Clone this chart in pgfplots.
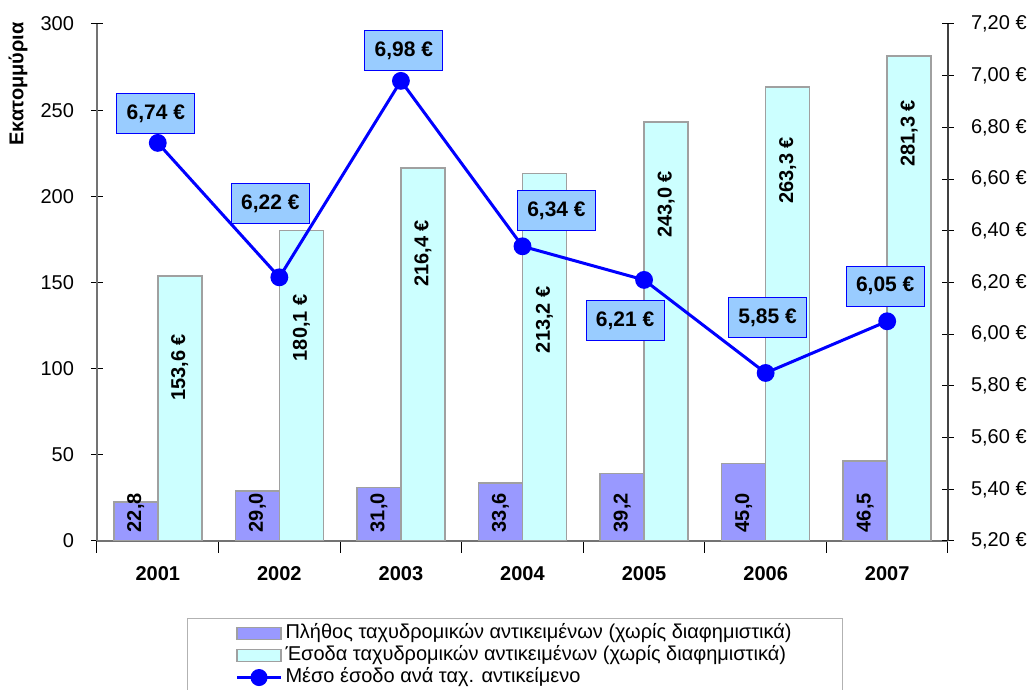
\documentclass[border=0pt]{standalone}
\usepackage{fontspec}
\setmainfont{Liberation Sans}
\usepackage{pgfplots}
\usepackage{pgfplotstable}
\pgfplotsset{compat=1.18}

\definecolor{countbar}{RGB}{153,153,255}
\definecolor{revbar}{RGB}{204,255,255}
\definecolor{lblbox}{RGB}{153,204,255}
\definecolor{barline}{RGB}{160,160,160}

% x = year index (0 = 2001), revoff/dx/dy = label offsets in pt
\pgfplotstableread{
x count rev   revoff avg  dx   dy
0 22.8  153.6 28.5   6.74 -1   14.5
1 29.0  180.1 31.5   6.22 -4.5 37
2 31.0  216.4 25.5   6.98 1.5  15
3 33.6  213.2 56     6.34 17   18
4 39.2  243.0 24     6.21 -9.5 -20.5
5 45.0  263.3 24.5   5.85 1    27.5
6 46.5  281.3 21.5   6.05 -1   17.5
}\data

\begin{document}
\begin{tikzpicture}
\pgfplotsset{
  every axis/.append style={
    scale only axis, width=425.5pt, height=258.5pt,
    xmin=-0.5, xmax=6.5,
    font=\fontsize{10}{12}\selectfont,
    tick label style={font=\fontsize{10}{12}\selectfont},
    /pgf/number format/assume math mode=true,
    /pgf/number format/use comma,
    tick align=center, major tick length=6pt,
    tick style={black, line width=0.5pt},
  },
}
\begin{axis}[
  axis x line*=bottom, axis y line*=left,
  axis line style={black!55, line width=0.6pt},
  ymin=0, ymax=300, ytick={0,50,100,150,200,250,300},
  yticklabel style={/pgf/number format/fixed, xshift=-5pt},
  xtick={-0.5,0.5,1.5,2.5,3.5,4.5,5.5,6.5}, xticklabels={},
  extra x ticks={0,1,2,3,4,5,6},
  extra x tick labels={2001,2002,2003,2004,2005,2006,2007},
  extra x tick style={major tick length=0pt,
    tick label style={font=\fontsize{10}{12}\selectfont\bfseries, yshift=-9pt}},
  ylabel={Εκατομμύρια},
  ylabel style={at={(axis description cs:-0.0928,0.884)}, anchor=center,
    font=\fontsize{10}{12}\selectfont\bfseries},
  ybar=0pt, bar width=22pt,
]
\addplot[fill=countbar, draw=barline, line width=0.8pt,
  point meta=explicit,
  visualization depends on={\thisrow{count} \as \cnt},
  nodes near coords={\pgfmathprintnumber[fixed,fixed zerofill,precision=1]{\pgfplotspointmeta}},
  nodes near coords style={yshift={4pt-0.86167pt*\cnt}, rotate=90, anchor=west,
    inner sep=0pt, font=\fontsize{10}{12}\selectfont\bfseries, text=black},
] table[x=x, y=count, meta=count] {\data};
\addplot[fill=revbar, draw=barline, line width=0.8pt,
  point meta=explicit,
  visualization depends on={\thisrow{revoff} \as \roff},
  nodes near coords={\pgfmathprintnumber[fixed,fixed zerofill,precision=1]{\pgfplotspointmeta}~€},
  nodes near coords style={yshift=-\roff pt, rotate=90, anchor=east,
    inner sep=0pt, font=\fontsize{10}{12}\selectfont\bfseries, text=black},
] table[x=x, y=rev, meta=rev] {\data};
\end{axis}

\begin{axis}[
  axis y line*=right, axis x line=none,
  axis line style={black!75, line width=0.6pt},
  ymin=5.2, ymax=7.2,
  ytick={5.2,5.4,5.6,5.8,6.0,6.2,6.4,6.6,6.8,7.0,7.2},
  yticklabel={\pgfmathprintnumber[fixed,fixed zerofill,precision=2]{\tick}~€},
  yticklabel style={xshift=5pt},
  legend style={at={(axis description cs:0.1058,-0.149)}, anchor=north west,
    draw=black!30, line width=0.5pt, inner xsep=24pt, inner ysep=2pt,
    font=\fontsize{10}{12}\selectfont, row sep=0pt,
    nodes={inner sep=1.5pt, text height=6.5pt, text depth=1.5pt}},
  legend cell align=left,
]
\addlegendimage{legend image code/.code={
  \draw[fill=countbar, draw=barline, line width=0.8pt] (0pt,-3pt) rectangle (22pt,3pt);}}
\addlegendentry{Πλήθος ταχυδρομικών αντικειμένων (χωρίς διαφημιστικά)}
\addlegendimage{legend image code/.code={
  \draw[fill=revbar, draw=barline, line width=0.8pt] (0pt,-3pt) rectangle (22pt,3pt);}}
\addlegendentry{Έσοδα ταχυδρομικών αντικειμένων (χωρίς διαφημιστικά)}
\addplot[blue, line width=1.5pt, mark=*, mark size=3.7pt,
  point meta=explicit,
  visualization depends on={\thisrow{dx} \as \ldx},
  visualization depends on={\thisrow{dy} \as \ldy},
  nodes near coords={\pgfmathprintnumber[fixed,fixed zerofill,precision=2]{\pgfplotspointmeta}~€},
  nodes near coords style={anchor=center, xshift=\ldx pt, yshift=\ldy pt,
    fill=lblbox, draw=blue, line width=0.5pt, text=black,
    minimum width=39pt, minimum height=20pt, inner sep=2pt,
    font=\fontsize{10.5}{12}\selectfont\bfseries},
  legend image code/.code={
    \draw[blue, line width=1.5pt] (0pt,0pt) -- (22pt,0pt);
    \fill[blue] (11pt,0pt) circle (3.5pt);},
] table[x=x, y=avg, meta=avg] {\data};
\addlegendentry{Μέσο έσοδο ανά ταχ. αντικείμενο}
\end{axis}
\pgfresetboundingbox
\path (-48.5pt,-74.5pt) rectangle (468.5pt,270.5pt);
\end{tikzpicture}
\end{document}
